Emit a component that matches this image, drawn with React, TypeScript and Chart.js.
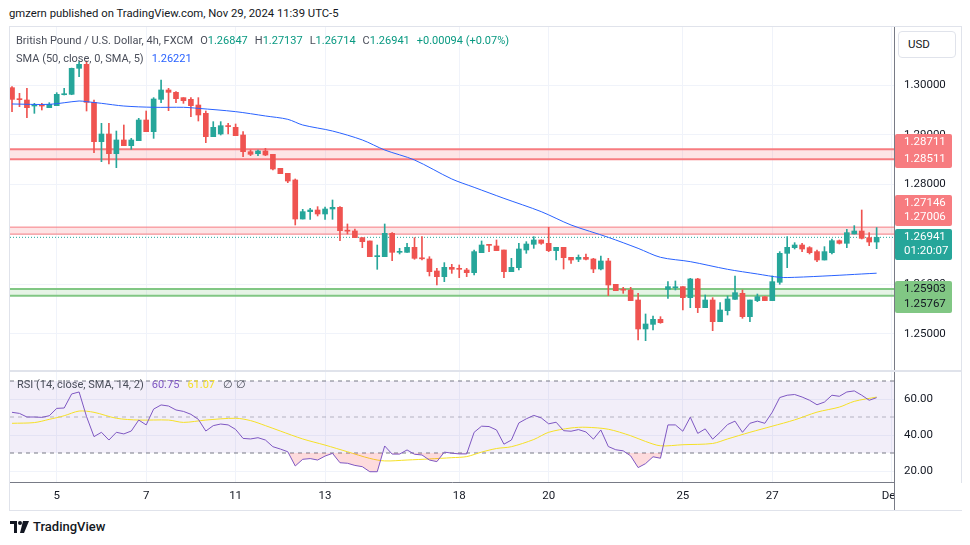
import React, { useEffect, useRef } from 'react';
import { Chart, registerables } from 'chart.js';

Chart.register(...registerables);

const UP = '#26a69a';
const DOWN = '#ef5350';
const FONT = 'Roboto, sans-serif';

// ---- candle data (FXCM GBPUSD 4h, Nov 4 - Nov 29 2024) ----
const opens = [
  1.29946, 1.29720, 1.29699, 1.29578, 1.29592, 1.29545, 1.29585, 1.29805, 1.29813, 1.30335,
  1.30415, 1.29652, 1.28862, 1.29016, 1.28621, 1.28896, 1.28782, 1.28882, 1.29297, 1.29063,
  1.29712, 1.29900, 1.29853, 1.29746, 1.29712, 1.29598, 1.29431, 1.28963, 1.29016, 1.29180,
  1.29150, 1.28996, 1.28661, 1.28621, 1.28675, 1.28608, 1.28327, 1.28226, 1.28093, 1.27309,
  1.27457, 1.27490, 1.27410, 1.27510, 1.27544, 1.27080, 1.27069, 1.26935, 1.26868, 1.26553,
  1.26553, 1.27022, 1.26640, 1.26640, 1.26741, 1.26525, 1.26506, 1.26265, 1.26151, 1.26339,
  1.26305, 1.26285, 1.26232, 1.26633, 1.26787, 1.26767, 1.26687, 1.26252, 1.26332, 1.26687,
  1.26801, 1.26888, 1.26821, 1.26674, 1.26741, 1.26540, 1.26500, 1.26540, 1.26506, 1.26305,
  1.26466, 1.25998, 1.25888, 1.25884, 1.25683, 1.25101, 1.25194, 1.25295, 1.25897, 1.25928,
  1.25951, 1.25730, 1.26105, 1.25529, 1.25683, 1.25248, 1.25469, 1.25696, 1.25817, 1.25348,
  1.25670, 1.25750, 1.25670, 1.26038, 1.26620, 1.26734, 1.26787, 1.26734, 1.26654, 1.26486,
  1.26633, 1.26874, 1.26821, 1.27008, 1.27068, 1.26935, 1.26847,
];
const highs = [
  1.29967, 1.29833, 1.29933, 1.29632, 1.29632, 1.29645, 1.29846, 1.29933, 1.30340, 1.30469,
  1.30482, 1.29699, 1.29230, 1.29230, 1.29076, 1.29197, 1.28929, 1.29331, 1.29478, 1.29746,
  1.30100, 1.29933, 1.29866, 1.29746, 1.29746, 1.29746, 1.29478, 1.29264, 1.29264, 1.29230,
  1.29217, 1.29063, 1.28695, 1.28695, 1.28728, 1.28608, 1.28327, 1.28226, 1.28113, 1.27503,
  1.27524, 1.27557, 1.27550, 1.27691, 1.27557, 1.27209, 1.27109, 1.26935, 1.26868, 1.26787,
  1.27209, 1.27035, 1.26721, 1.26821, 1.26935, 1.26955, 1.26553, 1.26319, 1.26433, 1.26399,
  1.26386, 1.26319, 1.26687, 1.26868, 1.26787, 1.26888, 1.26687, 1.26520, 1.26821, 1.26854,
  1.26955, 1.26888, 1.27142, 1.26741, 1.26741, 1.26540, 1.26587, 1.26607, 1.26520, 1.26566,
  1.26520, 1.25998, 1.25937, 1.25937, 1.25817, 1.25402, 1.25362, 1.25348, 1.26051, 1.26065,
  1.25951, 1.26118, 1.26118, 1.25783, 1.25730, 1.25629, 1.25763, 1.26165, 1.25884, 1.25683,
  1.25803, 1.25750, 1.26165, 1.26654, 1.26955, 1.26834, 1.26821, 1.26754, 1.26687, 1.26754,
  1.26908, 1.26888, 1.27102, 1.27176, 1.27490, 1.27035, 1.27137,
];
const lows = [
  1.29465, 1.29565, 1.29344, 1.29431, 1.29498, 1.29545, 1.29585, 1.29800, 1.29805, 1.30167,
  1.29478, 1.28641, 1.28461, 1.28414, 1.28340, 1.28782, 1.28708, 1.28882, 1.29063, 1.28929,
  1.29645, 1.29485, 1.29645, 1.29632, 1.29364, 1.29277, 1.28842, 1.28963, 1.28996, 1.29016,
  1.28983, 1.28561, 1.28581, 1.28581, 1.28581, 1.28293, 1.28219, 1.28039, 1.27189, 1.27309,
  1.27303, 1.27370, 1.27303, 1.27303, 1.26874, 1.27008, 1.26935, 1.26734, 1.26553, 1.26299,
  1.26553, 1.26473, 1.26607, 1.26640, 1.26500, 1.26486, 1.26165, 1.25984, 1.26051, 1.26218,
  1.26131, 1.26152, 1.26185, 1.26633, 1.26654, 1.26674, 1.26131, 1.26252, 1.26285, 1.26620,
  1.26720, 1.26801, 1.26654, 1.26486, 1.26305, 1.26419, 1.26453, 1.26486, 1.26232, 1.26285,
  1.25770, 1.25870, 1.25817, 1.25670, 1.24880, 1.24866, 1.25081, 1.25215, 1.25716, 1.25884,
  1.25482, 1.25529, 1.25429, 1.25529, 1.25067, 1.25248, 1.25382, 1.25696, 1.25315, 1.25248,
  1.25650, 1.25670, 1.25670, 1.25998, 1.26332, 1.26707, 1.26654, 1.26607, 1.26453, 1.26486,
  1.26607, 1.26807, 1.26734, 1.27008, 1.26908, 1.26774, 1.26714,
];
const closes = [
  1.29712, 1.29705, 1.29545, 1.29590, 1.29578, 1.29612, 1.29813, 1.29820, 1.30335, 1.30415,
  1.29652, 1.28862, 1.29016, 1.28621, 1.28896, 1.28782, 1.28896, 1.29297, 1.29063, 1.29719,
  1.29900, 1.29853, 1.29726, 1.29685, 1.29585, 1.29398, 1.28963, 1.29150, 1.29183, 1.29165,
  1.28983, 1.28661, 1.28608, 1.28675, 1.28594, 1.28313, 1.28219, 1.28072, 1.27309, 1.27457,
  1.27490, 1.27410, 1.27510, 1.27544, 1.27075, 1.27065, 1.26935, 1.26854, 1.26553, 1.26560,
  1.27022, 1.26640, 1.26650, 1.26741, 1.26520, 1.26510, 1.26252, 1.26151, 1.26339, 1.26299,
  1.26299, 1.26232, 1.26654, 1.26787, 1.26780, 1.26674, 1.26252, 1.26339, 1.26707, 1.26807,
  1.26888, 1.26821, 1.26674, 1.26741, 1.26533, 1.26486, 1.26540, 1.26500, 1.26305, 1.26466,
  1.25984, 1.25870, 1.25880, 1.25670, 1.25101, 1.25201, 1.25295, 1.25228, 1.25951, 1.25934,
  1.25730, 1.26105, 1.25529, 1.25683, 1.25248, 1.25482, 1.25703, 1.25830, 1.25348, 1.25683,
  1.25750, 1.25670, 1.26051, 1.26620, 1.26741, 1.26787, 1.26707, 1.26633, 1.26486, 1.26654,
  1.26874, 1.26821, 1.27035, 1.27068, 1.26921, 1.26847, 1.26941,
];

// SMA (50, close, 0, SMA, 5) at these candle indices
const smaIdx = [0, 5, 9, 10, 12, 15, 19, 23, 25, 30, 34, 37, 39, 43, 47, 50, 54, 59, 62, 66, 71, 75, 80, 84, 87, 91, 96, 100, 103, 105, 110, 114, 116];
const smaVals = [
  1.29619, 1.29612, 1.29679, 1.29665, 1.29632, 1.29578, 1.29552, 1.29552, 1.29531, 1.29465,
  1.29378, 1.29311, 1.29197, 1.29076, 1.28896, 1.28695, 1.28494, 1.28113, 1.27945, 1.27724,
  1.27457, 1.27189, 1.26941, 1.26720, 1.26540, 1.26453, 1.26299, 1.26205, 1.26138, 1.26138,
  1.26172, 1.26205, 1.26221,
];

// RSI (14) per candle
const rsiVals = [
  52.6, 52.0, 50.0, 50.0, 49.8, 50.7, 54.8, 55.0, 62.8, 63.9,
  50.2, 39.1, 41.5, 37.2, 41.5, 40.6, 42.2, 48.3, 45.6, 54.4,
  56.7, 56.1, 53.9, 53.1, 51.5, 48.7, 42.2, 45.2, 46.1, 45.6,
  43.1, 38.1, 37.8, 38.5, 37.2, 33.5, 32.2, 30.7, 22.8, 26.5,
  26.9, 26.1, 28.3, 29.8, 24.6, 24.3, 23.1, 22.4, 19.6, 19.6,
  33.9, 29.4, 29.4, 31.7, 29.3, 28.9, 26.1, 25.2, 30.5, 29.9,
  29.5, 29.5, 41.5, 44.9, 44.7, 42.8, 34.9, 37.2, 46.7, 49.0,
  50.9, 49.5, 46.2, 47.1, 42.4, 42.1, 43.0, 41.7, 37.7, 42.8,
  33.6, 31.8, 31.2, 28.4, 21.9, 24.1, 27.9, 27.1, 45.6, 45.6,
  42.1, 49.9, 40.9, 43.4, 37.7, 41.5, 45.8, 47.7, 41.5, 46.5,
  47.7, 46.5, 52.7, 60.8, 62.1, 62.5, 61.1, 59.3, 56.8, 58.3,
  62.1, 61.5, 63.9, 64.5, 62.1, 59.3, 60.75,
];
// RSI-based MA (SMA 14) read at these indices
const rsiMaIdx = [0, 3, 5, 7, 9, 11, 14, 17, 21, 23, 26, 30, 32, 34, 36, 39, 42, 45, 48, 50, 53, 56, 59, 61, 63, 65, 67, 70, 72, 75, 77, 80, 83, 85, 87, 90, 94, 96, 99, 102, 105, 108, 111, 113, 116];
const rsiMaVals = [
  46.5, 46.9, 48.7, 50.7, 53.3, 52.6, 49.3, 48.3, 48.3, 47.0,
  48.3, 49.3, 48.0, 45.2, 42.2, 37.8, 34.4, 30.7, 27.0, 25.6,
  26.1, 26.7, 27.4, 28.0, 30.5, 32.5, 33.5, 37.5, 41.5, 43.9,
  44.3, 43.2, 39.6, 36.4, 34.0, 34.6, 35.3, 37.8, 41.5, 44.9,
  48.4, 52.7, 55.5, 58.7, 61.07,
];

const dayTickIdx = [6, 18, 30, 42, 60, 72, 90, 102, 118];
const dayTickLabels = ['5', '7', '11', '13', '18', '20', '25', '27', 'Dec'];
const priceTicks = [1.25, 1.26, 1.27, 1.28, 1.29, 1.3];
const rsiTicks = [20, 40, 60];
const rsiLevels = [70, 50, 30];

const resistanceZones = [[1.28711, 1.28511], [1.27146, 1.27006]];
const supportZones = [[1.25903, 1.25767]];
const lastPrice = 1.26941;
const countdown = '01:20:07';
const smaLast = 1.26221;
const rsiLast = 60.75;
const rsiMaLast = 61.07;

const X_MIN = -0.27;
const X_MAX = 118.33;
const P_MIN = 1.242771;
const P_MAX = 1.311647;
const R_MIN = 13.889;
const R_MAX = 75;

const GRID = '#f0f3fa';
const AXIS = '#787b86';
const TEXT = '#131722';

function hLine(v: number) {
  return [{ x: X_MIN, y: v }, { x: X_MAX, y: v }];
}

const xTickSetup = (scale: any) => {
  scale.ticks = dayTickIdx.map((v) => ({ value: v }));
};
const noPad = (s: any) => {
  s.paddingTop = 0;
  s.paddingBottom = 0;
  s.paddingLeft = 0;
  s.paddingRight = 0;
};

const tagPlugin = {
  id: 'priceTags',
  afterDraw(chart: any) {
    const { ctx, chartArea, scales } = chart;
    const ys = scales.y;
    const left = chartArea.right + 1;
    const tags = [
      { anchor: resistanceZones[0][0], shift: -15, h: 34, bg: '#f77c80', fg: '#ffffff', lines: resistanceZones[0].map((v) => v.toFixed(5)) },
      { anchor: resistanceZones[1][0], shift: -32, h: 31, bg: '#f77c80', fg: '#ffffff', lines: resistanceZones[1].map((v) => v.toFixed(5)) },
      { anchor: lastPrice, shift: -8, h: 31, bg: UP, fg: '#ffffff', lines: [lastPrice.toFixed(5), countdown] },
      { anchor: supportZones[0][0], shift: -8, h: 32, bg: '#81c784', fg: TEXT, lines: supportZones[0].map((v) => v.toFixed(5)) },
    ];
    ctx.save();
    ctx.font = `11.5px ${FONT}`;
    ctx.textBaseline = 'middle';
    ctx.textAlign = 'left';
    tags.forEach((t) => {
      const top = Math.round(ys.getPixelForValue(t.anchor) + t.shift);
      ctx.fillStyle = t.bg;
      ctx.beginPath();
      ctx.roundRect(left, top, 57, t.h, 2);
      ctx.fill();
      ctx.fillStyle = t.fg;
      t.lines.forEach((s, k) => ctx.fillText(s, left + 9, top + 8.5 + k * (t.h - 17)));
    });
    ctx.restore();
  },
};

const cornerPlugin = {
  id: 'corner',
  afterDraw(chart: any) {
    const { ctx, chartArea, width, height } = chart;
    ctx.save();
    ctx.fillStyle = '#ffffff';
    ctx.fillRect(chartArea.right + 1, chartArea.bottom + 1, width - chartArea.right, height - chartArea.bottom);
    ctx.strokeStyle = AXIS;
    ctx.lineWidth = 1;
    ctx.beginPath();
    ctx.moveTo(Math.round(chartArea.right) + 0.5, chartArea.bottom);
    ctx.lineTo(Math.round(chartArea.right) + 0.5, height);
    ctx.stroke();
    ctx.restore();
  },
};

function PriceChart() {
  const ref = useRef<HTMLCanvasElement>(null);
  useEffect(() => {
    const n = opens.length;
    const idx = Array.from({ length: n }, (_, i) => i);
    const colors = idx.map((i) => (closes[i] >= opens[i] ? UP : DOWN));
    const zoneSets: any[] = [];
    resistanceZones.forEach((z, k) => {
      const bw = k === 0 ? 2 : 1;
      zoneSets.push({ type: 'line', data: hLine(z[0]), borderColor: '#f77c80', borderWidth: bw, pointRadius: 0, fill: false, order: 10 });
      zoneSets.push({ type: 'line', data: hLine(z[1]), borderColor: '#f77c80', borderWidth: bw, pointRadius: 0, fill: '-1', backgroundColor: 'rgba(247,124,128,0.2)', order: 10 });
    });
    supportZones.forEach((z) => {
      zoneSets.push({ type: 'line', data: hLine(z[0]), borderColor: '#81c784', borderWidth: 2, pointRadius: 0, fill: false, order: 10 });
      zoneSets.push({ type: 'line', data: hLine(z[1]), borderColor: '#81c784', borderWidth: 2, pointRadius: 0, fill: '-1', backgroundColor: 'rgba(129,199,132,0.2)', order: 10 });
    });
    const chart = new Chart(ref.current as HTMLCanvasElement, {
      type: 'bar',
      data: {
        datasets: [
          ...zoneSets,
          { type: 'line', data: hLine(lastPrice), borderColor: UP, borderWidth: 1, borderDash: [1, 2], pointRadius: 0, fill: false, order: 5 },
          { type: 'line', data: smaIdx.map((x, k) => ({ x, y: smaVals[k] })), borderColor: '#2962ff', borderWidth: 1, pointRadius: 0, fill: false, tension: 0.3, order: 0 },
          { type: 'bar', data: idx.map((i) => ({ x: i, y: [lows[i], highs[i]] })), backgroundColor: colors, barThickness: 1, grouped: false, order: 2 },
          { type: 'bar', data: idx.map((i) => ({ x: i, y: [opens[i], closes[i]] })), backgroundColor: colors, barThickness: 5, minBarLength: 1, grouped: false, order: 1 },
        ] as any,
      },
      options: {
        animation: false,
        responsive: false,
        events: [],
        layout: { padding: 0 },
        plugins: { legend: { display: false }, tooltip: { enabled: false } },
        scales: {
          x: {
            type: 'linear', min: X_MIN, max: X_MAX, offset: false,
            grid: { color: GRID, drawTicks: false, offset: false },
            border: { display: false },
            ticks: { display: false },
            afterBuildTicks: xTickSetup,
            afterFit: (s: any) => { s.height = 0; noPad(s); },
          },
          y: {
            position: 'right', min: P_MIN, max: P_MAX,
            grid: { color: GRID, drawTicks: false },
            border: { color: AXIS },
            ticks: { padding: 10, color: TEXT, font: { family: FONT, size: 11.5 }, callback: (v: any) => Number(v).toFixed(5) },
            afterBuildTicks: (s: any) => { s.ticks = priceTicks.map((v) => ({ value: v })); },
            afterFit: (s: any) => { s.width = 68; noPad(s); },
          },
        },
      } as any,
      plugins: [tagPlugin],
    });
    return () => chart.destroy();
  }, []);
  return <canvas ref={ref} width={952} height={343} style={{ position: 'absolute', left: 10, top: 27 }} />;
}

function RsiChart() {
  const ref = useRef<HTMLCanvasElement>(null);
  useEffect(() => {
    const chart = new Chart(ref.current as HTMLCanvasElement, {
      type: 'line',
      data: {
        datasets: [
          { data: hLine(rsiLevels[0]), borderColor: AXIS, borderWidth: 1, borderDash: [4, 4], pointRadius: 0, fill: false, order: 10 },
          { data: hLine(rsiLevels[2]), borderColor: AXIS, borderWidth: 1, borderDash: [4, 4], pointRadius: 0, fill: '-1', backgroundColor: 'rgba(126,87,194,0.1)', order: 10 },
          { data: hLine(rsiLevels[1]), borderColor: 'rgba(120,123,134,0.5)', borderWidth: 1, borderDash: [4, 4], pointRadius: 0, fill: false, order: 10 },
          { data: rsiMaIdx.map((x, k) => ({ x, y: rsiMaVals[k] })), borderColor: '#f5e026', borderWidth: 1, pointRadius: 0, fill: false, tension: 0.3, order: 1 },
          {
            data: rsiVals.map((y, x) => ({ x, y })), borderColor: '#7e57c2', borderWidth: 1, pointRadius: 0, order: 0,
            fill: { target: { value: 30 }, above: 'rgba(0,0,0,0)', below: 'rgba(242,54,69,0.18)' },
          },
        ] as any,
      },
      options: {
        animation: false,
        responsive: false,
        events: [],
        layout: { padding: 0 },
        plugins: { legend: { display: false }, tooltip: { enabled: false } },
        scales: {
          x: {
            type: 'linear', min: X_MIN, max: X_MAX, offset: false,
            grid: { color: GRID, drawTicks: false },
            border: { color: AXIS },
            ticks: {
              color: TEXT, font: { family: FONT, size: 11.5 }, padding: 7, autoSkip: false, maxRotation: 0,
              callback: (_v: any, i: number) => dayTickLabels[i],
            },
            afterBuildTicks: xTickSetup,
            afterFit: (s: any) => { s.height = 28; noPad(s); },
          },
          y: {
            position: 'right', min: R_MIN, max: R_MAX,
            grid: { color: GRID, drawTicks: false },
            border: { color: AXIS },
            ticks: { padding: 10, color: TEXT, font: { family: FONT, size: 11.5 }, callback: (v: any) => Number(v).toFixed(2) },
            afterBuildTicks: (s: any) => { s.ticks = rsiTicks.map((v) => ({ value: v })); },
            afterFit: (s: any) => { s.width = 68; noPad(s); },
          },
        },
      } as any,
      plugins: [cornerPlugin],
    });
    return () => chart.destroy();
  }, []);
  return <canvas ref={ref} width={952} height={138} style={{ position: 'absolute', left: 10, top: 372 }} />;
}

function Logo() {
  return (
    <div style={{ position: 'absolute', left: 10, top: 519, display: 'flex', alignItems: 'center', gap: 4, fontFamily: FONT, fontSize: 13, color: TEXT }}>
      <svg width="19" height="12" viewBox="0 0 19 12">
        <path d="M0 0h7v12H4V3H0z" fill={TEXT} />
        <circle cx="10" cy="2" r="2" fill={TEXT} />
        <path d="M13 0h6l-5 12h-4z" fill={TEXT} />
      </svg>
      <span style={{ fontWeight: 500 }}>TradingView</span>
    </div>
  );
}

export default function App() {
  const teal = '#089981';
  const legendText = '#4a4e5a';
  return (
    <div style={{ position: 'absolute', left: 0, top: 0, width: 970, height: 545, background: '#fff', fontFamily: FONT, overflow: 'hidden' }}>
      <div style={{ position: 'absolute', left: 9, top: 7, fontSize: 11.3, color: TEXT }}>
        gmzern published on TradingView.com, Nov 29, 2024 11:39 UTC-5
      </div>
      <div style={{ position: 'absolute', left: 9, top: 26, width: 953, height: 485, border: '1px solid #e0e3eb', boxSizing: 'border-box' }} />
      <PriceChart />
      <RsiChart />
      <div style={{ position: 'absolute', left: 10, top: 370, width: 952, height: 2, background: '#e0e3eb' }} />
      <div style={{ position: 'absolute', left: 16, top: 34, fontSize: 11, color: legendText, whiteSpace: 'pre', display: 'flex', gap: 7 }}>
        <span>British Pound / U.S. Dollar, 4h, FXCM</span>
        <span>O<span style={{ color: teal }}>{opens[opens.length - 1].toFixed(5)}</span></span>
        <span>H<span style={{ color: teal }}>{highs[highs.length - 1].toFixed(5)}</span></span>
        <span>L<span style={{ color: teal }}>{lows[lows.length - 1].toFixed(5)}</span></span>
        <span>C<span style={{ color: teal }}>{closes[closes.length - 1].toFixed(5)}</span></span>
        <span style={{ color: teal }}>+0.00094 (+0.07%)</span>
      </div>
      <div style={{ position: 'absolute', left: 16, top: 52, fontSize: 11, color: legendText, whiteSpace: 'pre', display: 'flex', gap: 8 }}>
        <span>SMA (50, close, 0, SMA, 5)</span>
        <span style={{ color: '#2962ff' }}>{smaLast.toFixed(5)}</span>
      </div>
      <div style={{ position: 'absolute', left: 17, top: 378, fontSize: 11, color: legendText, whiteSpace: 'pre', display: 'flex', gap: 8 }}>
        <span>RSI (14, close, SMA, 14, 2)</span>
        <span style={{ color: '#7e57c2' }}>{rsiLast.toFixed(2)}</span>
        <span style={{ color: '#f5e026' }}>{rsiMaLast.toFixed(2)}</span>
        <span>∅ ∅</span>
      </div>
      <div style={{ position: 'absolute', left: 898, top: 31, width: 58, height: 27, border: '1px solid #e0e3eb', borderRadius: 4, boxSizing: 'border-box', fontSize: 11.5, color: TEXT, paddingLeft: 9, lineHeight: '25px', background: '#fff' }}>
        USD
      </div>
      <Logo />
    </div>
  );
}
